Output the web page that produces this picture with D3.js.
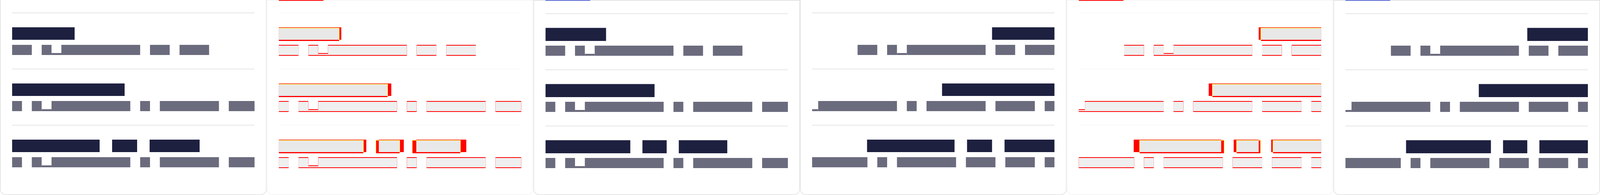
<!DOCTYPE html>
<html>
<head>
<meta charset="utf-8">
<script src="https://cdn.jsdelivr.net/npm/d3@7"></script>
<style>
html, body { margin: 0; padding: 0; background: #fff; overflow: hidden; }
svg { display: block; width: 100vw; height: 100vh; }
</style>
</head>
<body>
<svg id="vis"></svg>
<script>
// word lengths (in characters) of the redacted lines, one list per row
var titleWords = [[5], [9], [7, 2, 4]]
var bodyWords = [[2, 10, 2, 3], [1, 10, 1, 6, 4], [1, 10, 1, 6, 3, 3]]
var bodyWordsRtl = [[2, 10, 2, 3], [10, 1, 6, 4, 1], [10, 1, 6, 3, 3, 1]]
// which word of each body row has the short second glyph
var notchWord = [1, 1, 1]
var notchWordRtl = [1, 0, 0]
var panels = ['expected', 'diff', 'actual', 'expected', 'diff', 'actual']
var directions = ['ltr', 'ltr', 'ltr', 'rtl', 'rtl', 'rtl']

var panelW = 704, pad = 32, contentW = 640
var textW = 26, textH = 26, notchH = 21

var metrics = {
    expected: { grid: 33, title: 70, titleH: 32, titleW: 33, text: 115 },
    actual: { grid: 35, title: 71.5, titleH: 33.5, titleW: 32, text: 117 }
}

// drawn in a 4224x500 user space, stretched to whatever the viewport is
var svg = d3.select('#vis')
    .attr('viewBox', '0 0 4224 500')
    .attr('preserveAspectRatio', 'none')

var rowY = d3.scaleLinear().domain([0, 1]).range([0, 144])
var panelX = d3.scaleLinear().domain([0, 1]).range([0, panelW])

function wordSpans(words, dir) {
    var total = d3.sum(words) + words.length - 1
    var c = dir === 'rtl' ? -total : 0
    return words.map(function (n) {
        var s = { start: c, len: n }
        c += n + 1
        return s
    })
}

function blockRects(words, dir, xs, top, h, notchAt) {
    var rects = []
    wordSpans(words, dir).forEach(function (w, i) {
        if (i === notchAt) {
            rects.push({ x0: xs(w.start), x1: xs(w.start + 1), y0: top, y1: top + h })
            rects.push({ x0: xs(w.start + 1), x1: xs(w.start + 2), y0: top + notchH, y1: top + h })
            rects.push({ x0: xs(w.start + 2), x1: xs(w.start + w.len), y0: top, y1: top + h })
        } else {
            rects.push({ x0: xs(w.start), x1: xs(w.start + w.len), y0: top, y1: top + h })
        }
    })
    return rects
}

function shapes(kind, dir, px) {
    var m = metrics[kind]
    var origin = dir === 'rtl' ? px + pad + contentW : px + pad
    var tx = d3.scaleLinear().domain([0, 1]).range([origin, origin + m.titleW])
    var bx = d3.scaleLinear().domain([0, 1]).range([origin, origin + textW])
    var titles = [], body = [], grid = []
    d3.range(3).forEach(function (i) {
        grid.push(m.grid + rowY(i))
        titles = titles.concat(blockRects(titleWords[i], dir, tx, m.title + rowY(i), m.titleH, -1))
        var words = dir === 'rtl' ? bodyWordsRtl[i] : bodyWords[i]
        var nw = dir === 'rtl' ? notchWordRtl[i] : notchWord[i]
        body = body.concat(blockRects(words, dir, bx, m.text + rowY(i), textH, nw))
    })
    return { titles: titles, body: body, grid: grid }
}

function inter(a, b) {
    var r = { x0: Math.max(a.x0, b.x0), x1: Math.min(a.x1, b.x1), y0: Math.max(a.y0, b.y0), y1: Math.min(a.y1, b.y1) }
    return (r.x1 > r.x0 && r.y1 > r.y0) ? r : null
}

function drawRects(g, rects, color) {
    g.selectAll(null)
        .data(rects)
        .enter()
        .append('rect')
        .attr('x', d => d.x0)
        .attr('y', d => d.y0)
        .attr('width', d => d.x1 - d.x0)
        .attr('height', d => d.y1 - d.y0)
        .attr('fill', color)
}

var defs = svg.append('defs')

panels.forEach(function (kind, p) {
    var px = panelX(p)
    var dir = directions[p]
    var isDiff = kind === 'diff'

    defs.append('clipPath').attr('id', 'clip' + p)
        .append('rect')
        .attr('x', px + pad).attr('y', 0)
        .attr('width', contentW).attr('height', 500)

    // card
    svg.append('rect')
        .attr('x', px + 1).attr('y', -30)
        .attr('width', panelW - 2).attr('height', 529)
        .attr('rx', 14)
        .attr('fill', '#fff')
        .attr('stroke', isDiff ? '#f5f5f5' : '#e6e6e6')
        .attr('stroke-width', 2)

    // top bar of the rendered card
    if (kind !== 'expected') {
        svg.append('rect').attr('x', px).attr('y', 0).attr('width', panelW).attr('height', 2)
            .attr('fill', isDiff ? '#f6f6f6' : '#e4e4e4')
        svg.append('rect').attr('x', px + pad).attr('y', 0).attr('width', 118).attr('height', 2)
            .attr('fill', isDiff ? '#ff0000' : '#5468d4')
    }

    var g = svg.append('g').attr('clip-path', 'url(#clip' + p + ')')

    if (!isDiff) {
        var s = shapes(kind, dir, px)
        g.selectAll(null).data(s.grid).enter().append('rect')
            .attr('x', px + pad).attr('y', d => d - 1)
            .attr('width', contentW).attr('height', 2)
            .attr('fill', '#e6e6e6')
        drawRects(g, s.titles, '#1e2040')
        drawRects(g, s.body, '#6b6b7e')
        return
    }

    var e = shapes('expected', dir, px)
    var a = shapes('actual', dir, px)
    g.selectAll(null).data(e.grid).enter().append('rect')
        .attr('x', px + pad).attr('y', d => d - 1)
        .attr('width', contentW).attr('height', 2)
        .attr('fill', '#f8f8f8')

    // differing pixels in red, shared pixels faded
    drawRects(g, e.titles.concat(a.titles, e.body, a.body), '#ff0000')
    drawRects(g, e.titles.map((r, i) => inter(r, a.titles[i])).filter(r => r), '#e8e8e8')
    drawRects(g, e.body.map((r, i) => inter(r, a.body[i])).filter(r => r), '#efefef')

    // anti-aliased edges of the rendered titles
    var edges = []
    a.titles.forEach(function (r, i) {
        var ex = e.titles[i]
        edges.push({ x1: r.x0, x2: r.x1, y1: r.y0 + 0.5, y2: r.y0 + 0.5 })
        if (Math.abs(r.x0 - ex.x0) > 0.5) edges.push({ x1: r.x0 + 0.5, x2: r.x0 + 0.5, y1: r.y0, y2: r.y1 })
        if (Math.abs(r.x1 - ex.x1) > 0.5) edges.push({ x1: r.x1 - 0.5, x2: r.x1 - 0.5, y1: r.y0, y2: r.y1 })
    })
    g.selectAll(null).data(edges).enter().append('line')
        .attr('x1', d => d.x1).attr('x2', d => d.x2)
        .attr('y1', d => d.y1).attr('y2', d => d.y2)
        .attr('stroke', '#ffff00')
        .attr('stroke-width', 1)
})
</script>
</body>
</html>
